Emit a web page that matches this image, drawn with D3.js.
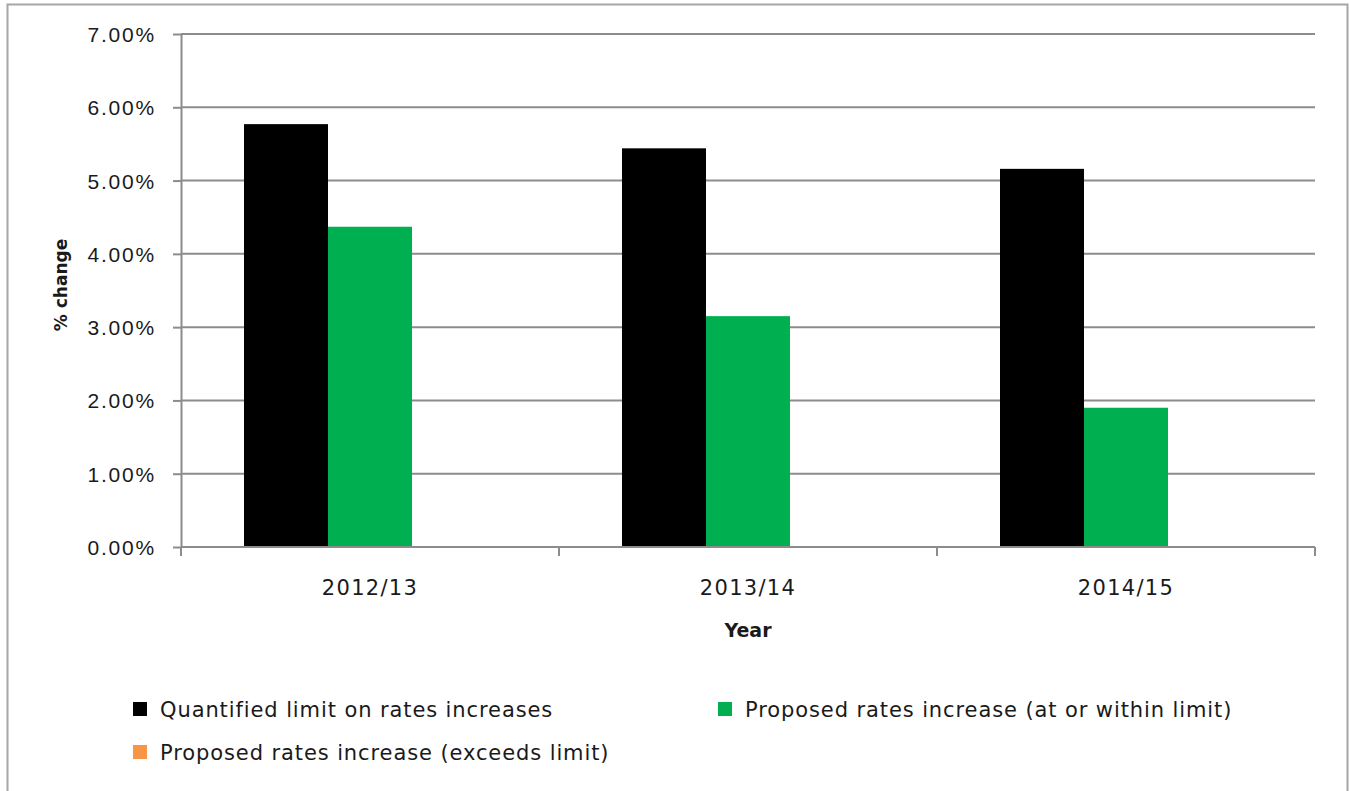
<!DOCTYPE html>
<style>
  body { margin: 0; background: #fff; }
  svg { display: block; font-family: "DejaVu Sans", Verdana, sans-serif; }
  .grid line { stroke: #8c8c8c; stroke-width: 2; }
  .axis path, .axis line { stroke: #8c8c8c; stroke-width: 2; }
  .axis text { fill: #1a1a1a; font-size: 21px; }
  .yaxis text { letter-spacing: 1.8px; }
  .xaxis text { letter-spacing: 1.3px; }
  .title { font-weight: bold; fill: #1a1a1a; }
  .legend text { font-size: 21px; fill: #1a1a1a; letter-spacing: 0.9px; }
</style>
<body>
</body>
<script src="https://cdn.jsdelivr.net/npm/d3@7"></script>
<script>
  const years = ['2012/13', '2013/14', '2014/15'];
  const seriesNames = [
    'Quantified limit on rates increases',
    'Proposed rates increase (at or within limit)',
    'Proposed rates increase (exceeds limit)'
  ];
  const limitValues = [5.77, 5.44, 5.16];
  const withinValues = [4.37, 3.15, 1.90];
  const exceedsValues = [0, 0, 0];
  const colors = ['#000000', '#00b050', '#f79646'];
  const yTicks = [0, 1, 2, 3, 4, 5, 6, 7];

  const w = 1350, h = 791;
  const l = 181, r = 1315, t = 34, b = 547;

  const svg = d3.select('body').append('svg')
    .attr('width', w)
    .attr('height', h);

  // outer chart border
  svg.append('rect')
    .attr('x', 7.5).attr('y', 4.5)
    .attr('width', 1340).attr('height', 800)
    .attr('fill', 'none')
    .attr('stroke', '#a6a6a6')
    .attr('stroke-width', 2);

  const x = d3.scaleBand().domain(years).range([l, r]);
  const sub = d3.scaleBand().domain(d3.range(3))
    .range([0, x.bandwidth()]).paddingOuter(0.75);
  const y = d3.scaleLinear().domain([0, 7]).range([b, t]);

  // gridlines
  svg.append('g').attr('class', 'grid')
    .selectAll('line')
    .data(yTicks.slice(1))
    .join('line')
    .attr('x1', l).attr('x2', r)
    .attr('y1', d => y(d)).attr('y2', d => y(d));

  const series = [limitValues, withinValues, exceedsValues];
  const rows = [];
  series.forEach((vals, s) => {
    vals.forEach((v, i) => rows.push({year: years[i], s, v}));
  });

  svg.append('g')
    .selectAll('rect')
    .data(rows.filter(d => d.v > 0))
    .join('rect')
    .attr('x', d => x(d.year) + sub(d.s))
    .attr('width', sub.bandwidth())
    .attr('y', d => y(d.v))
    .attr('height', d => y(0) - y(d.v))
    .attr('fill', d => colors[d.s]);

  // y axis
  svg.append('g').attr('class', 'axis yaxis')
    .attr('transform', `translate(${l},0)`)
    .call(d3.axisLeft(y)
      .tickValues(yTicks)
      .tickFormat(d => d.toFixed(2) + '%')
      .tickSize(8)
      .tickPadding(17)
      .tickSizeOuter(0))
    .call(g => g.selectAll('text').attr('dy', '0.36em'));

  // x axis: ticks at category boundaries
  const xa = svg.append('g').attr('class', 'axis xaxis')
    .attr('transform', `translate(0,${b})`);
  xa.append('line').attr('x1', l).attr('x2', r);
  xa.selectAll('line.tick')
    .data(years.map(d => x(d)).concat([r]))
    .join('line')
    .attr('class', 'tick')
    .attr('x1', d => d).attr('x2', d => d)
    .attr('y1', 0).attr('y2', 9);
  xa.selectAll('text')
    .data(years)
    .join('text')
    .attr('x', d => x(d) + x.bandwidth() / 2)
    .attr('y', 48)
    .attr('text-anchor', 'middle')
    .text(d => d);

  svg.append('text').attr('class', 'title')
    .attr('x', 748).attr('y', 637)
    .attr('text-anchor', 'middle')
    .style('font-size', '19px')
    .text('Year');

  svg.append('text').attr('class', 'title')
    .attr('transform', 'translate(67,285) rotate(-90)')
    .attr('text-anchor', 'middle')
    .style('font-size', '17px')
    .text('% change');

  // legend
  const legendPos = [[133, 702], [718, 702], [133, 745]];
  const lg = svg.append('g').attr('class', 'legend')
    .selectAll('g')
    .data(seriesNames)
    .join('g')
    .attr('transform', (d, i) => `translate(${legendPos[i][0]},${legendPos[i][1]})`);
  lg.append('rect')
    .attr('width', 14).attr('height', 14)
    .attr('fill', (d, i) => colors[i]);
  lg.append('text')
    .attr('x', 27).attr('y', 7)
    .attr('dy', '0.36em')
    .text(d => d);
</script>
